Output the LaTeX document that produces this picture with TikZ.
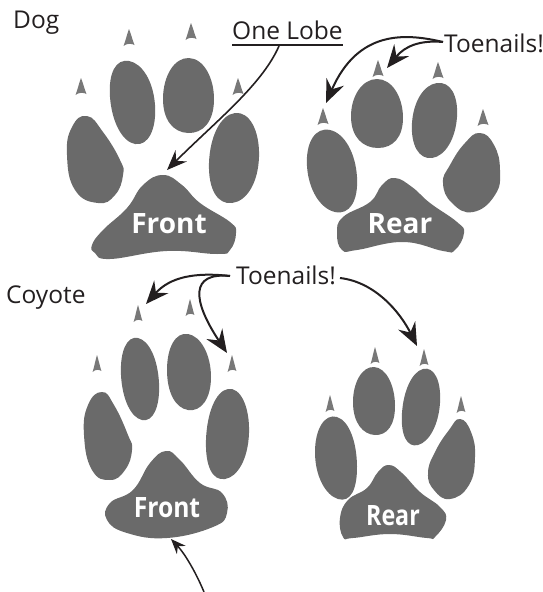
\documentclass[tikz,border=0pt]{standalone}
\usepackage{fontspec}
\setmainfont{Open Sans}
\usetikzlibrary{arrows.meta}
\definecolor{ink}{HTML}{231F20}
\definecolor{padgrey}{HTML}{6A6A6A}
\definecolor{clawgrey}{HTML}{787878}
\tikzset{
  padfill/.style={fill=padgrey},
  claw/.style={fill=clawgrey},
  lead/.style={draw=ink,line width=2pt,-{Stealth[length=23pt,width=19pt,inset=8pt]}},
  thinlead/.style={draw=ink,line width=1.6pt,-{Stealth[length=20pt,width=16pt,inset=7pt]}},
  smalllead/.style={draw=ink,line width=1.5pt,-{Stealth[length=15pt,width=12pt,inset=5pt]}},
  caption/.style={text=ink,inner sep=0pt,font=\fontsize{24.5}{28}\selectfont},
  padlabel/.style={text=white,inner sep=0pt,font=\bfseries\fontsize{28}{32}\selectfont}
}
% pad outline through the given points
\newcommand{\padshape}[1]{\path[padfill] plot[smooth cycle,tension=0.75] coordinates {#1};}
% oval toe through top, right, bottom and left points
\newcommand{\toeshape}[1]{\path[padfill] plot[smooth cycle,tension=1.05] coordinates {#1};}
% outer toe with a bulge on its lower inner side
\newcommand{\peartoe}[1]{\path[padfill] plot[smooth cycle,tension=0.8] coordinates {#1};}
% one claw, tip at the given point
\newcommand{\clawat}[3][1]{\path[claw,shift={(#2,#3)},xscale=#1] (0,0) .. controls (2,5) and (3.5,11) .. (5.5,16) .. controls (3,14.5) and (-2,14) .. (-5.5,17) .. controls (-3.5,12) and (-2,5) .. (0,0) -- cycle;}
\begin{document}
\begin{tikzpicture}[x=1pt,y=-1pt]
\useasboundingbox (0,0) rectangle (543,592);

% dog, front paw
\peartoe{(87,116)(103,132)(120,160)(123,175)(115,195)(98,203)(75,190)(67,155)(72,127)}
\toeshape{(129,61)(155,105)(135,144)(110,97)}
\toeshape{(189,58)(214,100)(188,133)(163,98)}
\toeshape{(235,113)(259,157)(232,203)(209,163)}
\padshape{(163,175)(182,185)(200,203)(230,222)(236,233)(230,250)(217,254)(167,251)(110,259)(95,253)(92,245)(103,230)(127,208)(143,185)}
\clawat{129}{29}\clawat{191}{23}\clawat{81}{78}\clawat{238}{78}

% dog, rear paw
\toeshape{(330,130)(357,177)(335,212)(307,166)}
\toeshape{(377,79)(403,117)(378,148)(351,117)}
\toeshape{(437,83)(457,117)(432,158)(412,123)}
\peartoe{(480,133)(494,145)(500,170)(495,195)(473,212)(452,203)(443,183)(450,165)(465,143)}
\padshape{(395,178)(412,187)(430,203)(457,222)(464,233)(455,250)(443,251)(403,242)(357,250)(342,250)(337,233)(343,217)(370,202)(382,185)}
\clawat{378}{60}\clawat{438}{62}\clawat{323}{108}\clawat{483}{109}

% coyote, front paw
\peartoe{(102,392)(114,405)(128,435)(132,450)(125,470)(110,480)(92,470)(84,435)(88,405)}
\toeshape{(138,338)(159,383)(142,420)(121,375)}
\toeshape{(188,334)(211,377)(188,410)(167,370)}
\toeshape{(228,389)(249,433)(225,479)(206,440)}
\padshape{(166,451)(180,460)(200,483)(222,493)(227,513)(213,527)(167,538)(127,533)(107,520)(110,503)(133,490)(150,463)}
\clawat[0.8]{138}{305}\clawat[0.8]{190}{299}\clawat[0.8]{97}{355}\clawat[0.8]{232}{355}

% coyote, rear paw
\toeshape{(337,417)(357,466)(338,499)(315,453)}
\toeshape{(374,367)(395,405)(375,435)(353,403)}
\toeshape{(423,369)(440,403)(418,445)(402,413)}
\peartoe{(460,419)(471,432)(475,457)(469,485)(450,499)(434,490)(428,473)(435,452)(449,430)}
\padshape{(389,465)(402,473)(420,492)(440,507)(446,520)(435,537)(427,538)(390,534)(353,538)(343,537)(340,518)(348,500)(367,488)(378,472)}
\clawat[0.8]{375}{347}\clawat[0.8]{424}{349}\clawat[0.8]{330}{395}\clawat[0.8]{461}{396}

% captions
\node[caption,anchor=base west] (dog) at (13,28) {Dog};
\node[caption,anchor=base west] (coyote) at (6,303) {Coyote};
\node[caption,anchor=base west] (lobe) at (232,39) {One Lobe};
\node[caption,anchor=base west] (nailsdog) at (444,52) {Toenails!};
\node[caption,anchor=base west] (nailscoyote) at (236,284) {Toenails!};
\node[padlabel] (frontdog) at (169,224) {Front};
\node[padlabel] (reardog) at (400,224) {Rear};
\node[padlabel,xscale=.88] (frontcoyote) at (167,508) {Front};
\node[padlabel,xscale=.83] (rearcoyote) at (393,516) {Rear};

% underline of the lobe caption
\coordinate (ula) at (232,45);
\coordinate (ulb) at (343,45);
\draw[ink,line width=1.2pt] (ula) -- (ulb);

% leader ends
\coordinate (lobestart) at (279,46);
\coordinate (lobetip) at (167,170);
\coordinate (rearnailone) at (326,103);
\coordinate (rearnailtwo) at (387,68);
\coordinate (cfnailone) at (146,304);
\coordinate (cfnailtwo) at (227,353);
\coordinate (crnail) at (417,346);
\coordinate (padbelow) at (171,539);
\coordinate (padbelowend) at (204,592);
\coordinate (dognailstart) at (443,42);
\coordinate (cnailstart) at (230,276);
\coordinate (cnailstarttwo) at (340,278);

\draw[thinlead] (lobestart) .. controls (262,85) and (215,122) .. (lobetip);
\draw[lead] (dognailstart) .. controls (405,33) and (358,30) .. (rearnailone);
\draw[lead] (dognailstart) .. controls (420,40) and (405,46) .. (rearnailtwo);
\draw[lead] (cnailstart) .. controls (195,272) and (170,277) .. (cfnailone);
\draw[lead] (cnailstart) .. controls (190,272) and (192,300) .. (cfnailtwo);
\draw[lead] (cnailstarttwo) .. controls (375,282) and (400,312) .. (crnail);
\draw[smalllead] (padbelowend) .. controls (197,575) and (186,555) .. (padbelow);
\end{tikzpicture}
\end{document}
